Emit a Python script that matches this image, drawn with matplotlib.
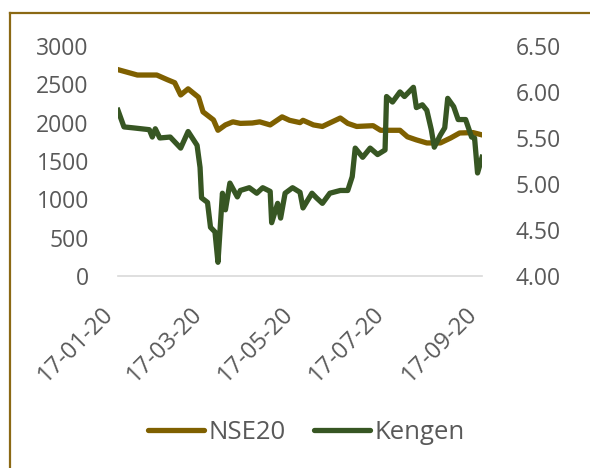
import matplotlib
matplotlib.use("Agg")
import matplotlib.pyplot as plt
import pandas as pd
from matplotlib.lines import Line2D

plt.rcParams['font.family'] = ['Open Sans', 'DejaVu Sans']

nse_dates = ["2020-01-17", "2020-01-30", "2020-02-12", "2020-02-19", "2020-02-24", "2020-02-28",
             "2020-03-04", "2020-03-11", "2020-03-14", "2020-03-21", "2020-03-24", "2020-03-29",
             "2020-04-03", "2020-04-08", "2020-04-16", "2020-04-21", "2020-04-28", "2020-05-06",
             "2020-05-11", "2020-05-18", "2020-05-20", "2020-05-27", "2020-06-02", "2020-06-14",
             "2020-06-19", "2020-06-25", "2020-07-06", "2020-07-11", "2020-07-24", "2020-07-29",
             "2020-08-04", "2020-08-11", "2020-08-20", "2020-08-27", "2020-09-02", "2020-09-11",
             "2020-09-17"]
nse_values = [2690, 2620, 2620, 2560, 2520, 2360,
              2440, 2330, 2140, 2035, 1900, 1970,
              2010, 1990, 1995, 2010, 1970, 2075,
              2030, 2000, 2030, 1970, 1950, 2060,
              1990, 1950, 1960, 1900, 1900, 1815,
              1775, 1735, 1735, 1800, 1865, 1870,
              1840]

ken_dates = ["2020-01-17", "2020-01-21", "2020-01-27", "2020-02-07", "2020-02-09", "2020-02-11",
             "2020-02-14", "2020-02-21", "2020-02-28", "2020-03-04", "2020-03-10", "2020-03-12",
             "2020-03-13", "2020-03-17", "2020-03-19", "2020-03-22", "2020-03-24", "2020-03-27",
             "2020-03-29", "2020-04-01", "2020-04-06", "2020-04-08", "2020-04-14", "2020-04-19",
             "2020-04-23", "2020-04-28", "2020-04-29", "2020-05-03", "2020-05-05", "2020-05-08",
             "2020-05-13", "2020-05-18", "2020-05-20", "2020-05-26", "2020-05-29", "2020-06-02",
             "2020-06-07", "2020-06-14", "2020-06-19", "2020-06-22", "2020-06-24", "2020-06-29",
             "2020-07-04", "2020-07-09", "2020-07-14", "2020-07-15", "2020-07-19", "2020-07-24",
             "2020-07-27", "2020-08-02", "2020-08-04", "2020-08-08", "2020-08-11", "2020-08-14",
             "2020-08-16", "2020-08-20", "2020-08-23", "2020-08-25", "2020-08-29", "2020-09-01",
             "2020-09-06", "2020-09-10", "2020-09-12", "2020-09-14", "2020-09-17"]
ken_values = [5.80, 5.62, 5.61, 5.59, 5.51, 5.60,
              5.50, 5.51, 5.39, 5.57, 5.42, 5.18,
              4.85, 4.80, 4.53, 4.48, 4.15, 4.90,
              4.72, 5.01, 4.86, 4.93, 4.96, 4.90,
              4.96, 4.92, 4.58, 4.79, 4.63, 4.90,
              4.96, 4.91, 4.74, 4.90, 4.85, 4.79,
              4.90, 4.93, 4.93, 5.08, 5.39, 5.29,
              5.39, 5.32, 5.37, 5.95, 5.89, 6.00,
              5.95, 6.05, 5.83, 5.86, 5.80, 5.59,
              5.40, 5.53, 5.61, 5.93, 5.84, 5.70,
              5.70, 5.51, 5.50, 5.12, 5.29]

tick_dates = ["2020-01-17", "2020-03-17", "2020-05-17", "2020-07-17", "2020-09-17"]
left_ticks = [0, 500, 1000, 1500, 2000, 2500, 3000]
right_ticks = [4.00, 4.50, 5.00, 5.50, 6.00, 6.50]

c_nse = '#7F6000'
c_ken = '#375623'
c_text = '#595959'

fig = plt.figure(figsize=(5.9, 4.68), dpi=100)
ax = fig.add_axes([0.2, 0.41, 0.617, 0.492])
ax2 = ax.twinx()

nd = pd.to_datetime(nse_dates)
kd = pd.to_datetime(ken_dates)
ax.plot(nd, nse_values, color=c_nse, lw=3.8, solid_joinstyle='round', zorder=3)
ax2.plot(kd, ken_values, color=c_ken, lw=3.8, solid_joinstyle='round', zorder=3)

td = pd.to_datetime(tick_dates)
ax.set_xlim(td[0], td[-1])
ax.set_ylim(0, 3000)
ax2.set_ylim(4.0, 6.5)
ax.set_xticks(td)
ax.set_xticklabels([d.strftime('%d-%m-%y') for d in td], rotation=45, ha='right',
                   va='top', rotation_mode='default', color=c_text, fontsize=17)
ax.set_yticks(left_ticks)
ax.set_yticklabels([str(v) for v in left_ticks], color=c_text, fontsize=16.5)
ax2.set_yticks(right_ticks)
ax2.set_yticklabels([f"{v:.2f}" for v in right_ticks], color=c_text, fontsize=16.5)

for a in (ax, ax2):
    for s in a.spines.values():
        s.set_visible(False)
    a.tick_params(length=0)
ax.spines['bottom'].set_visible(True)
ax.spines['bottom'].set_color('#D9D9D9')
ax.spines['bottom'].set_linewidth(1.2)
ax.tick_params(axis='y', pad=21)
ax.tick_params(axis='x', pad=19)
ax2.tick_params(axis='y', pad=24)

handles = [Line2D([0], [0], color=c_nse, lw=3.8, solid_capstyle='round'),
           Line2D([0], [0], color=c_ken, lw=3.8, solid_capstyle='round')]
leg = fig.legend(handles, ['NSE20', 'Kengen'], loc='center', bbox_to_anchor=(0.519, 0.075),
                 ncol=2, frameon=False, fontsize=18.5, handlelength=2.2, handletextpad=0.15,
                 columnspacing=1.1)
for t in leg.get_texts():
    t.set_color(c_text)

# outer border (top and left)
fig.add_artist(Line2D([10/590, 1.0], [1 - 13/468, 1 - 13/468], transform=fig.transFigure,
                      color='#8B6914', lw=1.6))
fig.add_artist(Line2D([10/590, 10/590], [0.0, 1 - 13/468], transform=fig.transFigure,
                      color='#8B6914', lw=1.6))

fig.savefig('out.png', dpi=100)
